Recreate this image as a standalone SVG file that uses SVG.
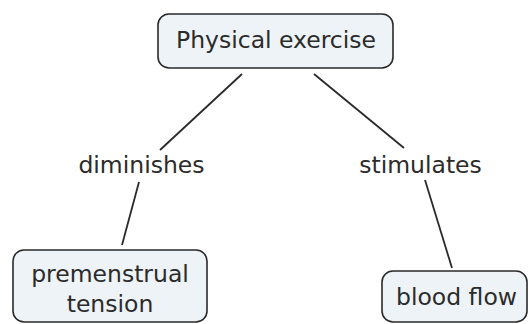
<svg xmlns="http://www.w3.org/2000/svg" width="529" height="324" viewBox="0 0 529 324">
<style>
.box{fill:#edf3f6;stroke:#2a2a2a;stroke-width:1.6}
.t{font-family:"DejaVu Sans",Verdana,sans-serif;font-size:23.5px;fill:#2b2b2b;text-anchor:middle}
.c{stroke:#2a2a2a;stroke-width:1.8;fill:none}
</style>
<rect width="529" height="324" fill="#ffffff"/>
<g id="connectors">
<line class="c" x1="242" y1="74" x2="160" y2="150"/>
<line class="c" x1="139" y1="182" x2="122" y2="245"/>
<line class="c" x1="314" y1="74" x2="404" y2="148"/>
<line class="c" x1="425" y1="180" x2="452" y2="268"/>
<text class="t" x="141.5" y="173">diminishes</text>
<text class="t" x="420.5" y="173">stimulates</text>
</g>
<g id="physical-exercise">
<rect class="box" x="158" y="14" width="235" height="54" rx="11"/>
<text class="t" x="276" y="48">Physical exercise</text>
</g>
<g id="premenstrual-tension">
<rect class="box" x="13" y="250" width="194" height="72" rx="11"/>
<text class="t" x="110" y="282">premenstrual</text>
<text class="t" x="110" y="312">tension</text>
</g>
<g id="blood-flow">
<rect class="box" x="382" y="271" width="145" height="51" rx="11"/>
<text class="t" x="456.5" y="305">blood flow</text>
</g>
</svg>
